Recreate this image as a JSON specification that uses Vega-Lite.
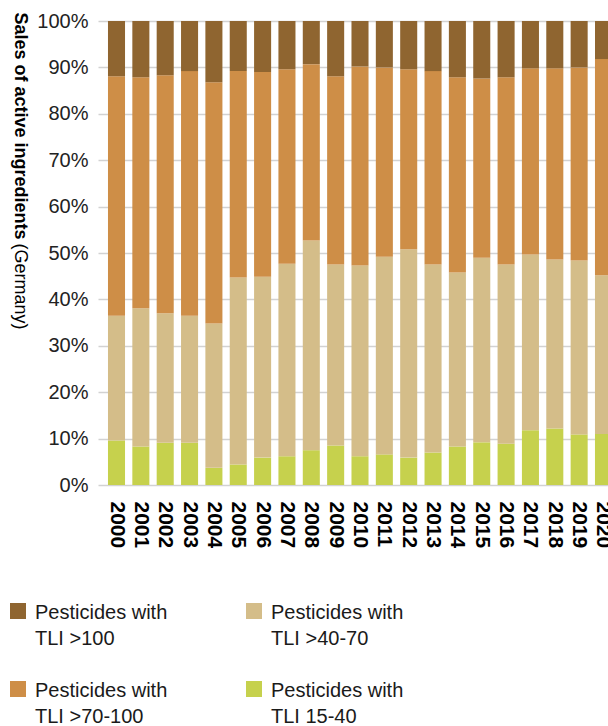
{
  "$schema": "https://vega.github.io/schema/vega-lite/v6.json",
  "width": 510,
  "height": 464,
  "autosize": {"type": "none"},
  "padding": {"left": 98, "top": 21, "right": 0, "bottom": 241},
  "background": "white",
  "config": {"view": {"stroke": null}, "font": "Liberation Sans"},
  "data": {"values": [
    {"year":"2000","tli":"15-40","lo":15,"v":9.6},{"year":"2000","tli":">40-70","lo":40,"v":26.9},{"year":"2000","tli":">70-100","lo":70,"v":51.6},{"year":"2000","tli":">100","lo":100,"v":11.9},
    {"year":"2001","tli":"15-40","lo":15,"v":8.3},{"year":"2001","tli":">40-70","lo":40,"v":29.8},{"year":"2001","tli":">70-100","lo":70,"v":49.8},{"year":"2001","tli":">100","lo":100,"v":12.1},
    {"year":"2002","tli":"15-40","lo":15,"v":9.1},{"year":"2002","tli":">40-70","lo":40,"v":27.9},{"year":"2002","tli":">70-100","lo":70,"v":51.3},{"year":"2002","tli":">100","lo":100,"v":11.7},
    {"year":"2003","tli":"15-40","lo":15,"v":9.1},{"year":"2003","tli":">40-70","lo":40,"v":27.4},{"year":"2003","tli":">70-100","lo":70,"v":52.7},{"year":"2003","tli":">100","lo":100,"v":10.8},
    {"year":"2004","tli":"15-40","lo":15,"v":3.7},{"year":"2004","tli":">40-70","lo":40,"v":31.1},{"year":"2004","tli":">70-100","lo":70,"v":52.0},{"year":"2004","tli":">100","lo":100,"v":13.2},
    {"year":"2005","tli":"15-40","lo":15,"v":4.4},{"year":"2005","tli":">40-70","lo":40,"v":40.3},{"year":"2005","tli":">70-100","lo":70,"v":44.5},{"year":"2005","tli":">100","lo":100,"v":10.8},
    {"year":"2006","tli":"15-40","lo":15,"v":5.9},{"year":"2006","tli":">40-70","lo":40,"v":39.0},{"year":"2006","tli":">70-100","lo":70,"v":44.1},{"year":"2006","tli":">100","lo":100,"v":11.0},
    {"year":"2007","tli":"15-40","lo":15,"v":6.2},{"year":"2007","tli":">40-70","lo":40,"v":41.5},{"year":"2007","tli":">70-100","lo":70,"v":41.9},{"year":"2007","tli":">100","lo":100,"v":10.4},
    {"year":"2008","tli":"15-40","lo":15,"v":7.5},{"year":"2008","tli":">40-70","lo":40,"v":45.2},{"year":"2008","tli":">70-100","lo":70,"v":38.0},{"year":"2008","tli":">100","lo":100,"v":9.3},
    {"year":"2009","tli":"15-40","lo":15,"v":8.5},{"year":"2009","tli":">40-70","lo":40,"v":39.0},{"year":"2009","tli":">70-100","lo":70,"v":40.6},{"year":"2009","tli":">100","lo":100,"v":11.9},
    {"year":"2010","tli":"15-40","lo":15,"v":6.2},{"year":"2010","tli":">40-70","lo":40,"v":41.1},{"year":"2010","tli":">70-100","lo":70,"v":42.9},{"year":"2010","tli":">100","lo":100,"v":9.8},
    {"year":"2011","tli":"15-40","lo":15,"v":6.6},{"year":"2011","tli":">40-70","lo":40,"v":42.6},{"year":"2011","tli":">70-100","lo":70,"v":40.8},{"year":"2011","tli":">100","lo":100,"v":10.0},
    {"year":"2012","tli":"15-40","lo":15,"v":5.9},{"year":"2012","tli":">40-70","lo":40,"v":44.9},{"year":"2012","tli":">70-100","lo":70,"v":38.8},{"year":"2012","tli":">100","lo":100,"v":10.4},
    {"year":"2013","tli":"15-40","lo":15,"v":7.0},{"year":"2013","tli":">40-70","lo":40,"v":40.5},{"year":"2013","tli":">70-100","lo":70,"v":41.7},{"year":"2013","tli":">100","lo":100,"v":10.8},
    {"year":"2014","tli":"15-40","lo":15,"v":8.3},{"year":"2014","tli":">40-70","lo":40,"v":37.5},{"year":"2014","tli":">70-100","lo":70,"v":42.1},{"year":"2014","tli":">100","lo":100,"v":12.1},
    {"year":"2015","tli":"15-40","lo":15,"v":9.2},{"year":"2015","tli":">40-70","lo":40,"v":39.8},{"year":"2015","tli":">70-100","lo":70,"v":38.6},{"year":"2015","tli":">100","lo":100,"v":12.4},
    {"year":"2016","tli":"15-40","lo":15,"v":8.9},{"year":"2016","tli":">40-70","lo":40,"v":38.6},{"year":"2016","tli":">70-100","lo":70,"v":40.4},{"year":"2016","tli":">100","lo":100,"v":12.1},
    {"year":"2017","tli":"15-40","lo":15,"v":11.8},{"year":"2017","tli":">40-70","lo":40,"v":37.9},{"year":"2017","tli":">70-100","lo":70,"v":40.1},{"year":"2017","tli":">100","lo":100,"v":10.2},
    {"year":"2018","tli":"15-40","lo":15,"v":12.2},{"year":"2018","tli":">40-70","lo":40,"v":36.4},{"year":"2018","tli":">70-100","lo":70,"v":41.2},{"year":"2018","tli":">100","lo":100,"v":10.2},
    {"year":"2019","tli":"15-40","lo":15,"v":10.9},{"year":"2019","tli":">40-70","lo":40,"v":37.5},{"year":"2019","tli":">70-100","lo":70,"v":41.6},{"year":"2019","tli":">100","lo":100,"v":10.0},
    {"year":"2020","tli":"15-40","lo":15,"v":11.0},{"year":"2020","tli":">40-70","lo":40,"v":34.2},{"year":"2020","tli":">70-100","lo":70,"v":46.6},{"year":"2020","tli":">100","lo":100,"v":8.2}
  ]},
  "layer": [
    {
      "mark": {"type": "bar"},
      "encoding": {
        "x": {
          "field": "year", "type": "ordinal",
          "scale": {"paddingInner": 0.3, "paddingOuter": 0.41, "range": [0, 524]},
          "axis": {"title": null, "labelAngle": 90, "labelFontSize": 21, "labelFontWeight": "bold", "labelColor": "#000000", "labelPadding": 16, "ticks": false, "domain": false, "grid": false}
        },
        "y": {
          "field": "v", "type": "quantitative", "stack": "zero",
          "scale": {"domain": [0, 100], "nice": false},
          "axis": {
            "title": "Sales of active ingredients",
            "titleAngle": 90, "titleAlign": "left", "titleBaseline": "middle",
            "titleX": -79, "titleY": -9,
            "titleFontSize": 18, "titleFontWeight": "bold", "titleColor": "#000000",
            "values": [0,10,20,30,40,50,60,70,80,90,100],
            "labelExpr": "datum.value + '%'",
            "labelFontSize": 20, "labelColor": "#222222", "labelPadding": 10,
            "ticks": false, "domain": false,
            "grid": true, "gridColor": "#d2d2d2", "gridWidth": 1.5
          }
        },
        "color": {
          "field": "tli", "type": "nominal",
          "scale": {"domain": [">100", ">70-100", ">40-70", "15-40"], "range": ["#8f6530", "#ce8e47", "#d4bd89", "#c6d14d"]},
          "legend": {
            "title": null, "orient": "none", "legendX": -90, "legendY": 580,
            "columns": 2, "columnPadding": 76, "rowPadding": 30,
            "symbolType": "square", "symbolSize": 256, "symbolStrokeWidth": 0, "symbolOpacity": 1,
            "labelFontSize": 20, "labelColor": "#1a1a1a", "labelOffset": 7, "labelLimit": 300,
            "labelBaseline": "top",
            "labelExpr": "['Pesticides with', 'TLI ' + datum.label]",
            "encode": {"labels": {"update": {"lineHeight": {"value": 26}, "dy": {"value": -8}}}}
          }
        },
        "order": {"field": "lo", "type": "quantitative", "sort": "ascending"}
      }
    },
    {
      "data": {"values": [{"z": 0}]},
      "mark": {"type": "rule", "opacity": 0},
      "encoding": {
        "y": {
          "field": "z", "type": "quantitative",
          "axis": {
            "orient": "left", "title": "(Germany)",
            "titleAngle": 90, "titleAlign": "left", "titleBaseline": "middle",
            "titleX": -79, "titleY": 222,
            "titleFontSize": 18, "titleFontWeight": "normal", "titleColor": "#000000",
            "labels": false, "ticks": false, "domain": false, "grid": false
          }
        }
      }
    }
  ],
  "resolve": {"axis": {"y": "independent"}}
}
